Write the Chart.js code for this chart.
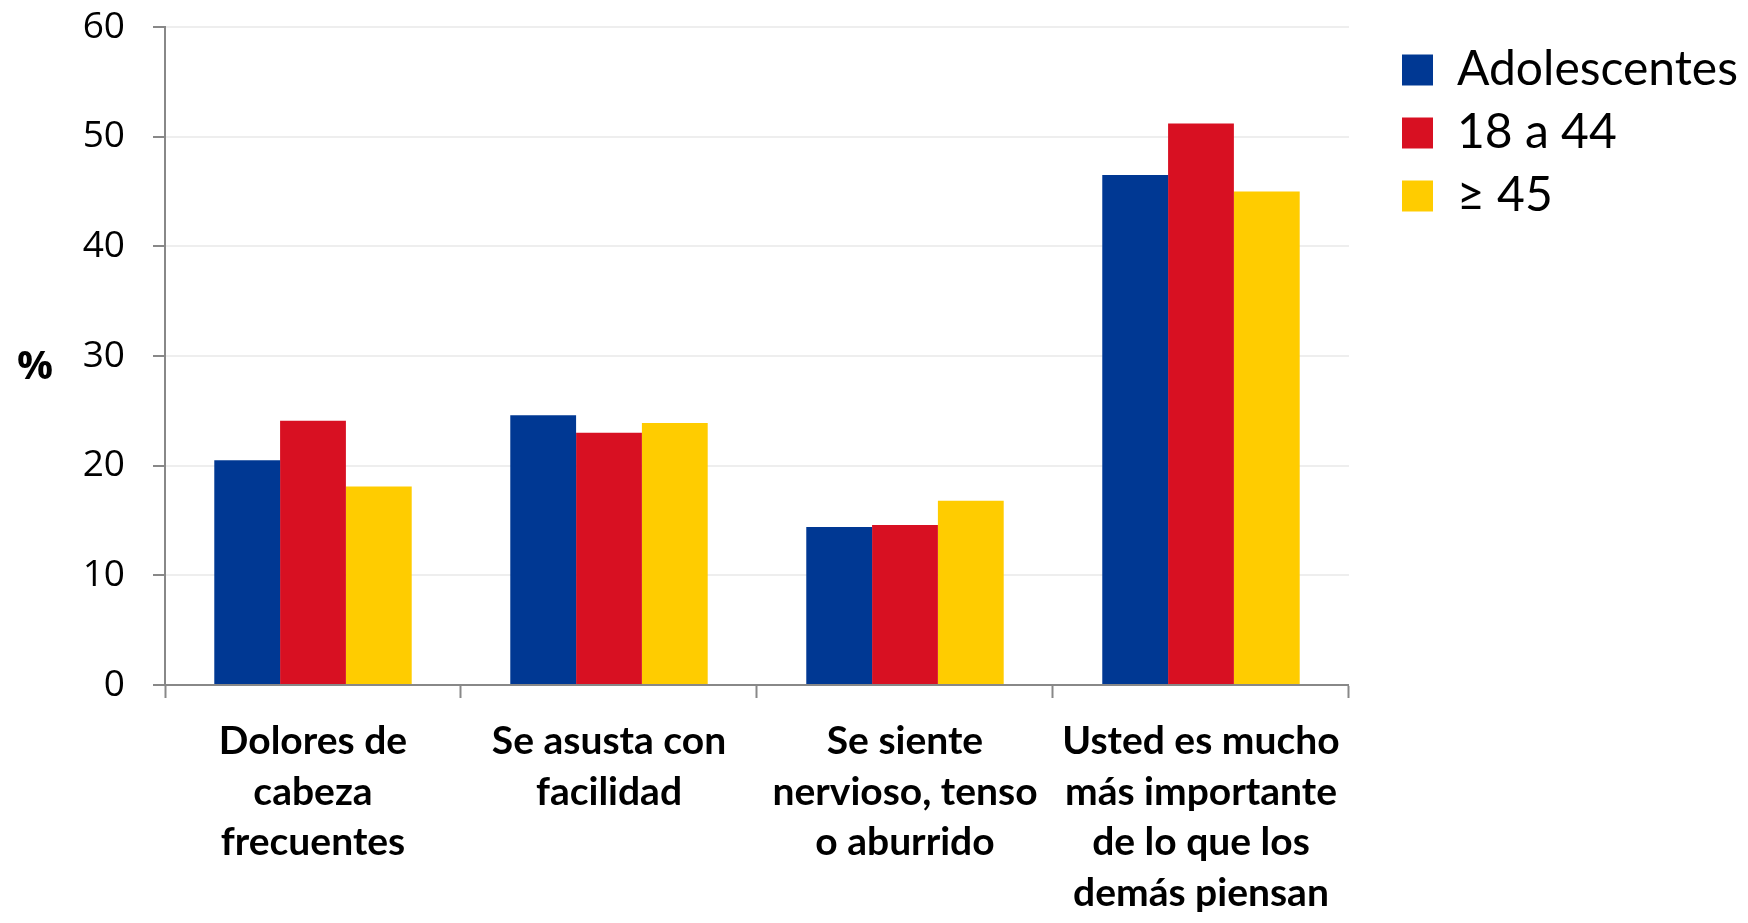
<!DOCTYPE html>
<html>
<head>
<meta charset="utf-8">
<script src="https://cdn.jsdelivr.net/npm/chart.js@4"></script>
<style>
html,body{margin:0;padding:0;background:#fff;}
#wrap{width:1748px;height:923px;position:relative;}
</style>
</head>
<body>
<div id="wrap"><canvas id="c" width="1748" height="923"></canvas></div>
<script>
const categories = [
  ["Dolores de", "cabeza", "frecuentes"],
  ["Se asusta con", "facilidad"],
  ["Se siente", "nervioso, tenso", "o aburrido"],
  ["Usted es mucho", "más importante", "de lo que los", "demás piensan"]
];
const seriesNames = ["Adolescentes", "18 a 44", "≥ 45"];
const adolescentes = [20.5, 24.6, 14.4, 46.5];
const adultos18a44 = [24.1, 23.0, 14.6, 51.2];
const mayores45 = [18.1, 23.9, 16.8, 45.0];
const yTicks = [0, 10, 20, 30, 40, 50, 60];
const yTitle = "%";
const colors = ["#003893", "#D81022", "#FFCC00"];

const percentPlugin = {
  id: 'percentTitle',
  afterDraw(chart) {
    const ctx = chart.ctx;
    const y = chart.scales.y.getPixelForValue(30) + 12;
    ctx.save();
    ctx.font = 'bold 40px "Open Sans", sans-serif';
    ctx.fillStyle = '#000';
    ctx.textAlign = 'center';
    ctx.textBaseline = 'middle';
    ctx.fillText(yTitle, 35, y);
    ctx.restore();
  }
};

new Chart(document.getElementById('c'), {
  type: 'bar',
  data: {
    labels: categories,
    datasets: [
      { label: seriesNames[0], data: adolescentes, backgroundColor: colors[0] },
      { label: seriesNames[1], data: adultos18a44, backgroundColor: colors[1] },
      { label: seriesNames[2], data: mayores45, backgroundColor: colors[2] }
    ]
  },
  options: {
    responsive: false,
    animation: false,
    devicePixelRatio: 1,
    layout: { padding: { top: 0, right: 0, left: 0, bottom: 0 } },
    datasets: { bar: { categoryPercentage: 0.667, barPercentage: 1.0 } },
    plugins: {
      tooltip: { enabled: false },
      legend: {
        position: 'right',
        align: 'start',
        maxWidth: 420,
        title: { display: true, text: ' ', font: { size: 10, lineHeight: 1 }, padding: { top: 21, bottom: 0 } },
        labels: {
          boxWidth: 31,
          boxHeight: 31,
          padding: 15,
          color: '#000',
          font: { family: 'Lato, "Open Sans", sans-serif', size: 48 }
        }
      }
    },
    scales: {
      x: {
        grid: { drawOnChartArea: false, offset: true, tickLength: 13, tickColor: '#888', tickWidth: 2 },
        border: { color: '#888', width: 2 },
        ticks: {
          color: '#000',
          maxRotation: 0,
          autoSkip: false,
          padding: 18,
          font: { family: 'Lato, "Open Sans", sans-serif', size: 39, weight: 'bold', lineHeight: 1.3 }
        },
        afterFit(scale) { scale.height = 238; }
      },
      y: {
        min: 0, max: 60,
        afterBuildTicks(scale) { scale.ticks = yTicks.map(v => ({ value: v })); },
        grid: { color: '#eeeeee', lineWidth: 2, tickLength: 12, tickColor: '#888', tickWidth: 2 },
        border: { color: '#888', width: 2 },
        ticks: {
          color: '#000',
          padding: 28,
          font: { family: '"Open Sans", sans-serif', size: 37 }
        },
        afterFit(scale) { scale.width = 165; scale.paddingTop = 27; }
      },
      gap: {
        type: 'linear',
        axis: 'y',
        position: 'right',
        display: true,
        grid: { display: false },
        border: { display: false },
        ticks: { display: false },
        afterFit(scale) { scale.width = 38; scale.paddingTop = 0; }
      }
    }
  },
  plugins: [percentPlugin]
});
</script>
</body>
</html>
